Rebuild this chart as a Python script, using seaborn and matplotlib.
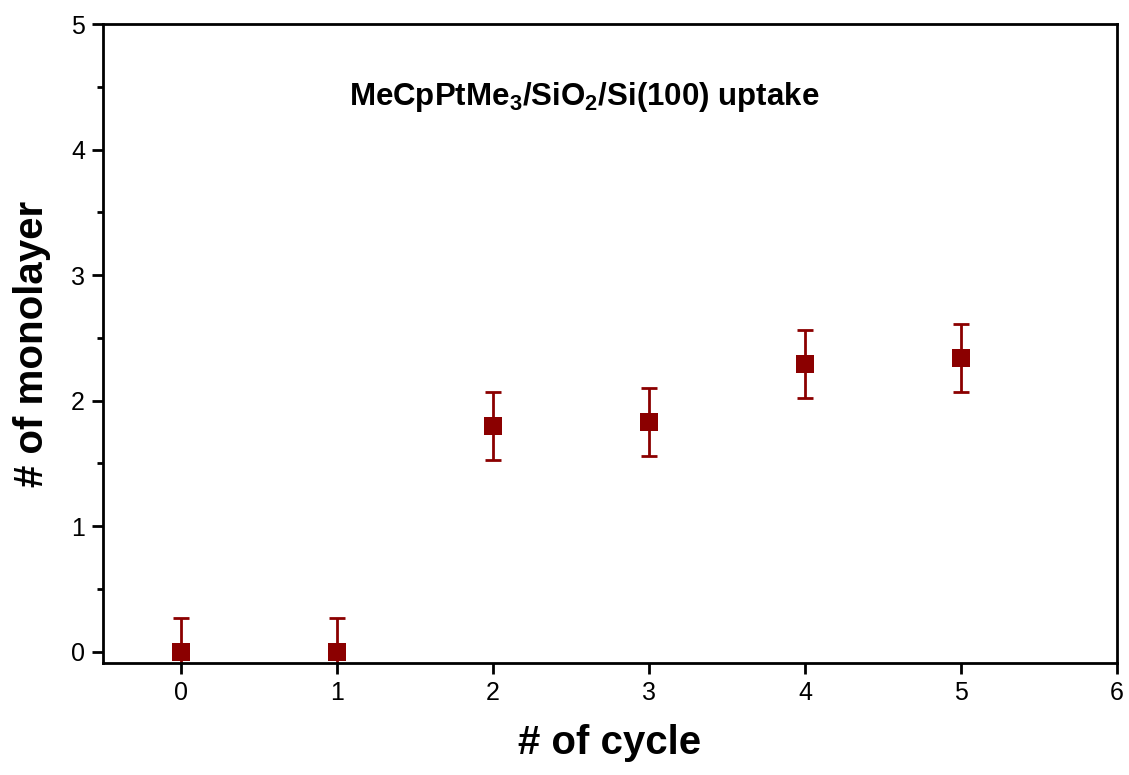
import matplotlib
matplotlib.use("Agg")
import matplotlib.pyplot as plt
import seaborn as sns
import numpy as np
import pandas as pd

cycles = [0, 1, 2, 3, 4, 5]
monolayer = [0.0, 0.0, 1.80, 1.83, 2.29, 2.34]
errors = [0.27, 0.27, 0.27, 0.27, 0.27, 0.27]
x_ticks = [0, 1, 2, 3, 4, 5, 6]
y_ticks = [0, 1, 2, 3, 4, 5]
title_text = "MeCpPtMe$_3$/SiO$_2$/Si(100) uptake"

sns.set_theme(style="ticks")
plt.rcParams['font.family'] = ['Liberation Sans', 'DejaVu Sans']
plt.rcParams['mathtext.fontset'] = 'custom'
plt.rcParams['mathtext.rm'] = 'Liberation Sans:bold'
plt.rcParams['mathtext.it'] = 'Liberation Sans:bold'
plt.rcParams['mathtext.bf'] = 'Liberation Sans:bold'
plt.rcParams['text.color'] = 'black'
plt.rcParams['axes.labelcolor'] = 'black'
plt.rcParams['xtick.color'] = 'black'
plt.rcParams['ytick.color'] = 'black'

df = pd.DataFrame({"cycle": cycles, "mono": monolayer, "err": errors})

fig = plt.figure(figsize=(11.29, 7.75), dpi=100)
ax = fig.add_axes([103/1129, 1 - 663/775, (1117-103)/1129, (663-24)/775])

color = "#8B0000"
ax.errorbar(df["cycle"], df["mono"], yerr=df["err"], fmt="none", ecolor=color,
            elinewidth=2, capsize=5.5, capthick=2, zorder=2)
sns.scatterplot(data=df, x="cycle", y="mono", marker="s", s=170, color=color,
                edgecolor=color, linewidth=0, ax=ax, zorder=3)

ax.set_xlim(-0.5, 6)
ax.set_ylim(-0.09, 5)
ax.set_xticks(x_ticks)
ax.set_yticks(y_ticks)
ax.set_yticks(np.arange(0.5, 5, 1.0), minor=True)
ax.tick_params(axis="both", which="major", direction="out", length=8, width=2,
               labelsize=18, labelcolor="black", pad=5)
ax.tick_params(axis="y", which="minor", direction="out", length=4, width=2)
ax.tick_params(top=False, right=False)
for sp in ax.spines.values():
    sp.set_linewidth(2)
    sp.set_color("black")
    sp.set_visible(True)

ax.set_xlabel("# of cycle", fontsize=29, fontweight="bold", labelpad=14, color="black")
ax.set_ylabel("# of monolayer", fontsize=29, fontweight="bold", labelpad=14, color="black")

ax.text(0.475, 0.885, title_text, transform=ax.transAxes, ha="center", va="center",
        fontsize=22.5, fontweight="bold", color="black")

fig.savefig("out.png", dpi=100)
